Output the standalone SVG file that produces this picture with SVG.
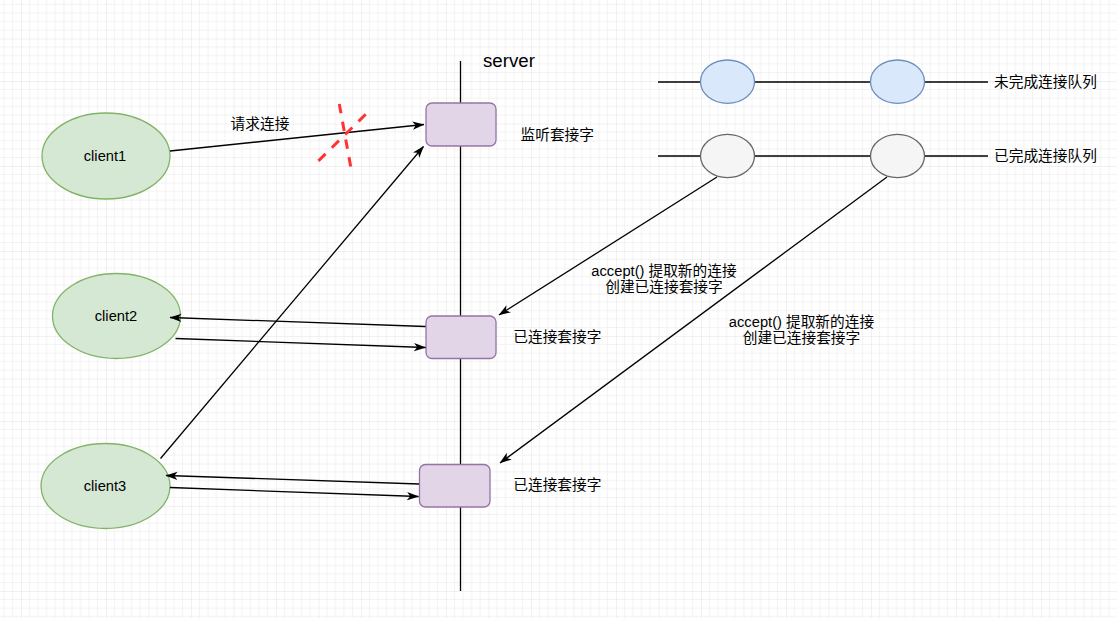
<svg xmlns="http://www.w3.org/2000/svg" width="1117" height="618" viewBox="0 0 1117 618">
<defs>
<pattern id="grid" x="21" y="38.5" width="42.5" height="42.5" patternUnits="userSpaceOnUse">
<path d="M8.5,0V42.5M17,0V42.5M25.5,0V42.5M34,0V42.5M0,8.5H42.5M0,17H42.5M0,25.5H42.5M0,34H42.5" stroke="#f2f2f2" stroke-width="1" fill="none"/>
<path d="M0,0V42.5M0,0H42.5" stroke="#e3e3e3" stroke-width="1" fill="none"/>
</pattern>
<marker id="arr" markerUnits="userSpaceOnUse" markerWidth="12" markerHeight="10" viewBox="0 0 12 10" refX="11.5" refY="5" orient="auto">
<path d="M0,0.8 L12,5 L0,9.2 L3.2,5 Z" fill="#000"/>
</marker>
<style>
text{font-family:"Liberation Sans","Noto Sans CJK SC",sans-serif;font-size:14.7px;fill:#000}
.client{fill:#d5e8d4;stroke:#82b366;stroke-width:1.3}
.sock{fill:#e1d5e7;stroke:#9673a6;stroke-width:1.3}
.blue{fill:#dae8fc;stroke:#6c8ebf;stroke-width:1.3}
.gray{fill:#f5f5f5;stroke:#666666;stroke-width:1.3}
.ln{stroke:#000;stroke-width:1.3;fill:none}
.arrow{stroke:#000;stroke-width:1.3;fill:none;marker-end:url(#arr)}
.red{stroke:#ff3333;stroke-width:3;fill:none}
.mid{text-anchor:middle}
</style>
</defs>
<rect width="1117" height="618" fill="#ffffff"/>
<rect width="1117" height="618" fill="url(#grid)"/>

<g id="server-line">
<line class="ln" x1="460.5" y1="61" x2="460.5" y2="591"/>
<text x="483" y="67" style="font-size:18.7px">server</text>
</g>

<g id="queues">
<line class="ln" x1="658" y1="82" x2="988" y2="82"/>
<line class="ln" x1="658" y1="156" x2="988" y2="156"/>
</g>

<g id="client1">
<ellipse class="client" cx="106" cy="156" rx="64" ry="43"/>
<text x="105" y="161" class="mid">client1</text>
</g>
<g id="client2">
<ellipse class="client" cx="116.5" cy="316" rx="64" ry="42.5"/>
<text x="116" y="320.5" class="mid">client2</text>
</g>
<g id="client3">
<ellipse class="client" cx="105.5" cy="486" rx="64.5" ry="42.5"/>
<text x="105" y="490.5" class="mid">client3</text>
</g>

<g id="listen-socket">
<rect class="sock" x="426" y="103" width="70" height="43" rx="6"/>
<text x="520.5" y="140">监听套接字</text>
</g>
<g id="conn-socket-1">
<rect class="sock" x="426" y="316" width="70" height="42.5" rx="6"/>
<text x="513.3" y="342">已连接套接字</text>
</g>
<g id="conn-socket-2">
<rect class="sock" x="419.5" y="464.5" width="70.5" height="42.5" rx="6"/>
<text x="513.3" y="490">已连接套接字</text>
</g>

<g id="incomplete-1"><ellipse class="blue" cx="727.5" cy="81.7" rx="27" ry="21.7"/></g>
<g id="incomplete-2"><ellipse class="blue" cx="897.5" cy="81.7" rx="27" ry="21.7"/></g>
<g id="incomplete-label"><text x="994" y="87">未完成连接队列</text></g>
<g id="complete-1"><ellipse class="gray" cx="727.5" cy="156" rx="27" ry="21.7"/></g>
<g id="complete-2"><ellipse class="gray" cx="897.5" cy="156" rx="27" ry="21.7"/></g>
<g id="complete-label"><text x="994" y="161">已完成连接队列</text></g>

<g id="connectors">
<line class="arrow" x1="170" y1="151" x2="424" y2="124.5"/>
<line class="arrow" x1="160.5" y1="458.5" x2="423.5" y2="146.5"/>
<line class="arrow" x1="717" y1="177" x2="499" y2="315"/>
<line class="arrow" x1="887" y1="177" x2="500" y2="463"/>
<line class="arrow" x1="425.5" y1="326.5" x2="170" y2="317.5"/>
<line class="arrow" x1="175.5" y1="338.5" x2="425.5" y2="347.5"/>
<line class="arrow" x1="419" y1="484" x2="166" y2="475.5"/>
<line class="arrow" x1="170" y1="487.5" x2="418.5" y2="496.5"/>
<text x="260" y="129" class="mid">请求连接</text>
<text x="664" y="275.5" class="mid">accept() 提取新的连接</text>
<text x="664" y="291.5" class="mid">创建已连接套接字</text>
<text x="801.5" y="326.5" class="mid">accept() 提取新的连接</text>
<text x="801.5" y="343" class="mid">创建已连接套接字</text>
</g>

<g id="cross">
<line class="red" x1="339.3" y1="104" x2="350.7" y2="166.7" stroke-dasharray="9.5 8.5"/>
<line class="red" x1="365.7" y1="114.3" x2="318.3" y2="161" stroke-dasharray="10 8.8"/>
</g>
</svg>
